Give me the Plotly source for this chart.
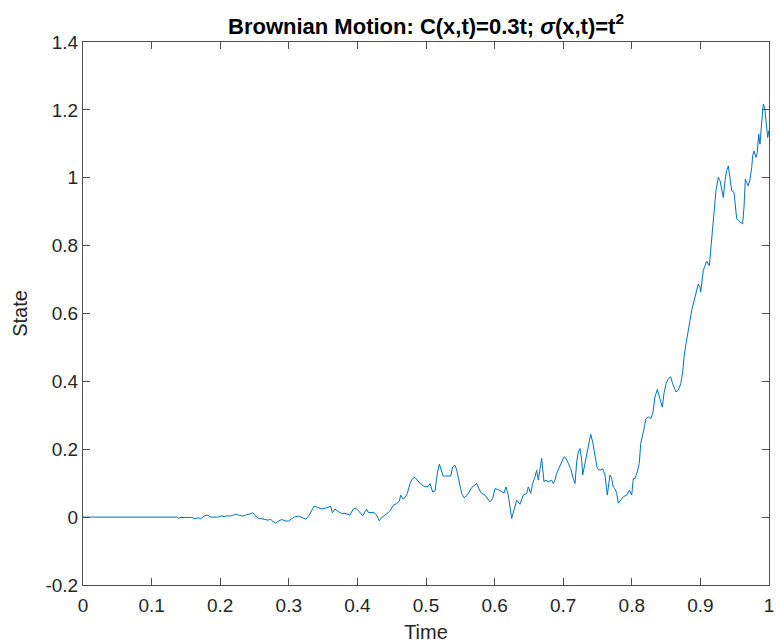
import plotly.graph_objects as go

# Simulated path of the state over time
time = [
    0.0, 0.1366, 0.1395, 0.1414, 0.1585, 0.1633, 0.1681, 0.1716, 0.1764, 0.1812,
    0.1861, 0.1972, 0.2022, 0.2055, 0.2095, 0.2133, 0.2182, 0.2230, 0.2278, 0.2328,
    0.2386, 0.2434, 0.2474, 0.2507, 0.2555, 0.2605, 0.2653, 0.2701, 0.2736, 0.2774,
    0.2809, 0.2847, 0.2897, 0.2945, 0.2993, 0.3042, 0.3090, 0.3138, 0.3188, 0.3251,
    0.3299, 0.3367, 0.3416, 0.3480, 0.3542, 0.3590, 0.3611, 0.3634, 0.3673, 0.3722,
    0.3771, 0.3819, 0.3867, 0.3892, 0.3940, 0.3980, 0.4028, 0.4077, 0.4111, 0.4136,
    0.4159, 0.4208, 0.4242, 0.4281, 0.4319, 0.4354, 0.4402, 0.4450, 0.4485, 0.4523,
    0.4573, 0.4611, 0.4631, 0.4660, 0.4694, 0.4728, 0.4767, 0.4806, 0.4840, 0.4873,
    0.4923, 0.4985, 0.5034, 0.5058, 0.5098, 0.5131, 0.5165, 0.5194, 0.5229, 0.5252,
    0.5302, 0.5360, 0.5389, 0.5423, 0.5448, 0.5485, 0.5520, 0.5554, 0.5602, 0.5666,
    0.5739, 0.5787, 0.5812, 0.5860, 0.5908, 0.5933, 0.5972, 0.6006, 0.6054, 0.6103,
    0.6137, 0.6166, 0.6200, 0.6224, 0.6249, 0.6283, 0.6322, 0.6370, 0.6395, 0.6418,
    0.6468, 0.6491, 0.6526, 0.6555, 0.6589, 0.6613, 0.6637, 0.6662, 0.6686, 0.6720,
    0.6749, 0.6783, 0.6832, 0.6856, 0.6880, 0.6905, 0.6943, 0.6978, 0.7012, 0.7041,
    0.7074, 0.7109, 0.7147, 0.7172, 0.7197, 0.7220, 0.7245, 0.7270, 0.7284, 0.7318,
    0.7351, 0.7380, 0.7401, 0.7430, 0.7464, 0.7497, 0.7536, 0.7576, 0.7609, 0.7643,
    0.7682, 0.7707, 0.7730, 0.7755, 0.7780, 0.7803, 0.7838, 0.7876, 0.7926, 0.7964,
    0.7999, 0.8022, 0.8047, 0.8080, 0.8109, 0.8130, 0.8168, 0.8207, 0.8241, 0.8276,
    0.8305, 0.8338, 0.8372, 0.8411, 0.8445, 0.8469, 0.8499, 0.8532, 0.8567, 0.8596,
    0.8644, 0.8678, 0.8713, 0.8742, 0.8761, 0.8790, 0.8824, 0.8848, 0.8873, 0.8897,
    0.8921, 0.8946, 0.8969, 0.8994, 0.9004, 0.9019, 0.9042, 0.9067, 0.9092, 0.9130,
    0.9150, 0.9179, 0.9198, 0.9227, 0.9261, 0.9286, 0.9310, 0.9334, 0.9359, 0.9383,
    0.9407, 0.9431, 0.9456, 0.9490, 0.9504, 0.9529, 0.9567, 0.9616, 0.9636, 0.9655,
    0.9675, 0.9698, 0.9723, 0.9748, 0.9762, 0.9781, 0.9810, 0.9829, 0.9850, 0.9869,
    0.9883, 0.9898, 0.9917, 0.9937, 0.9956, 0.9981, 1.0,
]

state = [
    0.0, 0.0, -0.004, -0.001, -0.001, -0.005, -0.002, -0.005, 0.003, 0.006,
    0.000, 0.000, 0.004, 0.001, 0.004, 0.003, 0.005, 0.009, 0.005, 0.003,
    0.007, 0.009, 0.013, 0.005, -0.003, -0.006, -0.007, -0.009, -0.006, -0.014,
    -0.018, -0.012, -0.007, -0.011, -0.012, -0.005, 0.001, 0.003, -0.001, -0.006,
    0.006, 0.032, 0.029, 0.024, 0.027, 0.030, 0.032, 0.013, 0.024, 0.016,
    0.011, 0.011, 0.009, 0.006, 0.024, 0.026, 0.016, 0.004, 0.016, 0.023,
    0.014, 0.014, 0.013, 0.006, -0.011, -0.001, 0.006, 0.013, 0.021, 0.035,
    0.040, 0.047, 0.065, 0.054, 0.057, 0.070, 0.099, 0.114, 0.117, 0.109,
    0.097, 0.089, 0.091, 0.099, 0.074, 0.077, 0.129, 0.156, 0.136, 0.121,
    0.121, 0.121, 0.148, 0.153, 0.138, 0.099, 0.070, 0.057, 0.065, 0.087,
    0.099, 0.077, 0.070, 0.065, 0.052, 0.045, 0.055, 0.084, 0.081, 0.074,
    0.071, 0.089, 0.065, 0.030, -0.004, 0.021, 0.050, 0.038, 0.050, 0.065,
    0.070, 0.089, 0.070, 0.099, 0.119, 0.138, 0.109, 0.138, 0.173, 0.104,
    0.109, 0.104, 0.109, 0.099, 0.109, 0.129, 0.148, 0.163, 0.178, 0.173,
    0.158, 0.143, 0.114, 0.099, 0.163, 0.192, 0.202, 0.168, 0.124, 0.158,
    0.192, 0.221, 0.244, 0.221, 0.178, 0.143, 0.138, 0.143, 0.124, 0.065,
    0.124, 0.114, 0.089, 0.084, 0.070, 0.041, 0.050, 0.060, 0.065, 0.079,
    0.065, 0.114, 0.114, 0.133, 0.158, 0.217, 0.251, 0.290, 0.295, 0.290,
    0.305, 0.354, 0.376, 0.349, 0.324, 0.364, 0.393, 0.408, 0.413, 0.393,
    0.369, 0.374, 0.393, 0.427, 0.471, 0.511, 0.560, 0.579, 0.609, 0.629,
    0.648, 0.673, 0.687, 0.677, 0.663, 0.687, 0.726, 0.741, 0.754, 0.741,
    0.785, 0.864, 0.893, 0.962, 1.001, 0.991, 0.967, 0.942, 0.991, 1.021,
    1.035, 0.991, 0.962, 0.957, 0.932, 0.879, 0.871, 0.864, 0.913, 0.996,
    0.986, 0.976, 0.996, 1.030, 1.065, 1.079, 1.060, 1.074, 1.129, 1.099,
    1.138, 1.168, 1.217, 1.207, 1.163, 1.119, 1.140,
]

x_ticks = [0, 0.1, 0.2, 0.3, 0.4, 0.5, 0.6, 0.7, 0.8, 0.9, 1]
x_tick_labels = ["0", "0.1", "0.2", "0.3", "0.4", "0.5", "0.6", "0.7", "0.8", "0.9", "1"]
y_ticks = [-0.2, 0, 0.2, 0.4, 0.6, 0.8, 1.0, 1.2, 1.4]
y_tick_labels = ["-0.2", "0", "0.2", "0.4", "0.6", "0.8", "1", "1.2", "1.4"]

AXIS_COLOR = "#4d4d4d"
TEXT_COLOR = "#262626"
FONT = "Liberation Sans, Arial, sans-serif"

fig = go.Figure()
fig.add_trace(go.Scatter(
    x=time, y=state, mode="lines",
    line=dict(color="#0072BD", width=1),
    showlegend=False,
))

axis_common = dict(
    showline=True, linecolor=AXIS_COLOR, linewidth=1, mirror="ticks",
    ticks="inside", ticklen=7, tickwidth=1, tickcolor=AXIS_COLOR,
    showgrid=False, zeroline=False, automargin=False,
    tickfont=dict(family=FONT, size=19, color=TEXT_COLOR),
)

fig.update_layout(
    width=776, height=643,
    margin=dict(l=83, r=7, t=42, b=58),
    paper_bgcolor="white", plot_bgcolor="white",
    title=dict(
        text="<b>Brownian Motion: C(x,t)=0.3t; <i>σ</i>(x,t)=t<sup>2</sup></b>",
        x=(83 + 769) / 2 / 776, xanchor="center",
        y=1 - 26 / 643, yanchor="middle",
        font=dict(family=FONT, size=22, color="black"),
    ),
    xaxis=dict(
        range=[0, 1], tickvals=x_ticks, ticktext=x_tick_labels,
        ticklabelstandoff=3,
        title=dict(text="Time", font=dict(family=FONT, size=20, color=TEXT_COLOR), standoff=10),
        **axis_common,
    ),
    yaxis=dict(
        range=[-0.2, 1.4], tickvals=y_ticks, ticktext=y_tick_labels,
        title=dict(text="State", font=dict(family=FONT, size=20, color=TEXT_COLOR), standoff=12),
        **axis_common,
    ),
)

fig.write_html("out.html")
